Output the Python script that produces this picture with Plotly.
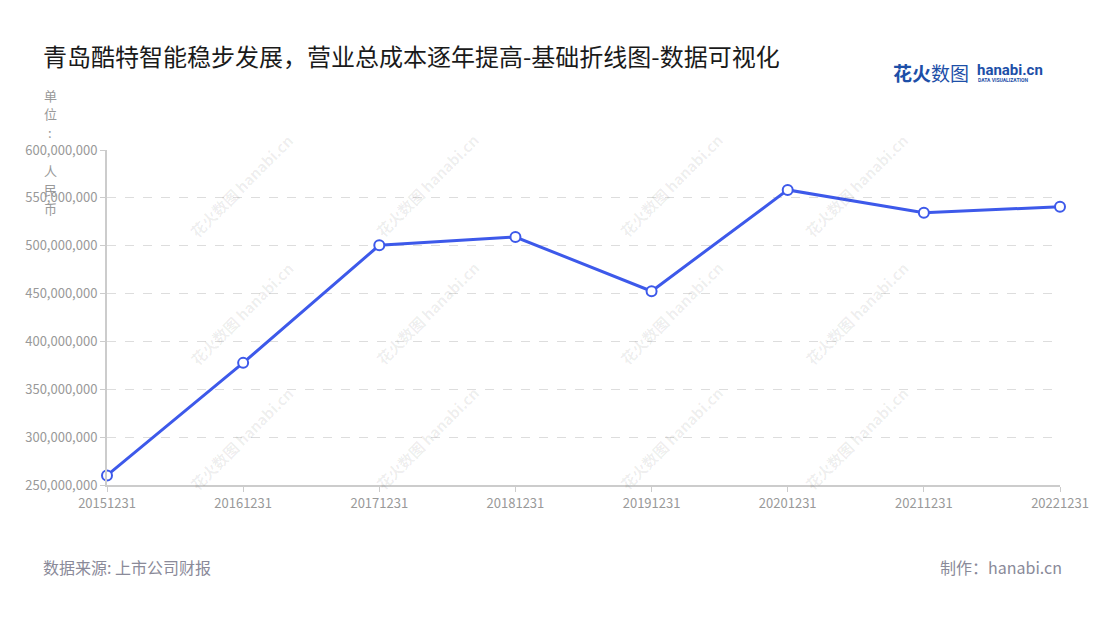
import plotly.graph_objects as go

# ---- data ----
dates = ["20151231", "20161231", "20171231", "20181231",
         "20191231", "20201231", "20211231", "20221231"]
total_cost = [260000000, 377600000, 500500000, 509100000,
              452500000, 558300000, 534400000, 540700000]
y_ticks = [250000000, 300000000, 350000000, 400000000,
           450000000, 500000000, 550000000, 600000000]

title_text = "青岛酷特智能稳步发展，营业总成本逐年提高-基础折线图-数据可视化"
unit_chars = ["单", "位", ":", " ", "人", "民", "币"]
source_text = "数据来源: 上市公司财报"
maker_text = "制作：hanabi.cn"

# page body has an 8px margin; work in screen pixels and shift by it
OFF = 8
W, H = 1100 - OFF, 620 - OFF
PL, PR, PT, PB = 107, 1060, 150, 485   # plot area in screen pixels
L, R, T, B = PL - OFF, W - (PR - OFF), PT - OFF, H - (PB - OFF)
FONT = "Noto Sans CJK SC, Noto Sans, sans-serif"
BLUE = "#3d59ea"

fig = go.Figure()
fig.add_trace(go.Scatter(
    x=dates, y=total_cost, mode="lines+markers",
    line=dict(color=BLUE, width=3),
    marker=dict(size=10, color="white", line=dict(color=BLUE, width=2)),
    hoverinfo="x+y", showlegend=False, cliponaxis=False,
))

def px_x(px):
    return (px - PL) / (PR - PL)

def px_y(py):
    return (PB - py) / (PB - PT)

annotations = []
# watermarks
for cx in [183, 427, 671, 915]:
    for cy in [127, 313, 497]:
        annotations.append(dict(
            x=px_x(cx), y=px_y(cy), xref="paper", yref="paper",
            text="<b>花火数图 hanabi.cn</b>", showarrow=False, textangle=-45,
            font=dict(size=15, color="rgba(0,0,0,0.07)", family=FONT),
        ))

# title
annotations.append(dict(
    x=px_x(42), y=px_y(55), xref="paper", yref="paper", xanchor="left", yanchor="middle",
    text=title_text, showarrow=False, borderpad=0,
    font=dict(size=24, color="#1a1a1a", family=FONT),
))
# unit label, stacked vertically
for i, ch in enumerate(unit_chars):
    annotations.append(dict(
        x=px_x(50), y=px_y(95 + i * 18.9), xref="paper", yref="paper",
        xanchor="center", yanchor="middle", text=ch, showarrow=False,
        font=dict(size=13, color="#999999", family=FONT),
    ))
# footer
annotations.append(dict(
    x=px_x(42), y=px_y(567), xref="paper", yref="paper", xanchor="left", yanchor="middle",
    text=source_text, showarrow=False, borderpad=0,
    font=dict(size=16, color="#8a8a99", family=FONT),
))
annotations.append(dict(
    x=px_x(1063), y=px_y(567), xref="paper", yref="paper", xanchor="right", yanchor="middle",
    text=maker_text, showarrow=False, borderpad=0,
    font=dict(size=16, color="#8a8a99", family=FONT),
))
# logo
annotations.append(dict(
    x=px_x(971), y=px_y(72), xref="paper", yref="paper", xanchor="right", yanchor="middle",
    text="<b>花火</b>数图", showarrow=False, font=dict(size=19, color="#1d4fa8", family=FONT),
))
annotations.append(dict(
    x=px_x(975), y=px_y(70), xref="paper", yref="paper", xanchor="left", yanchor="middle",
    text="<b>hanabi.cn</b>", showarrow=False, font=dict(size=15, color="#1d4fa8", family="Roboto, sans-serif"),
))
annotations.append(dict(
    x=px_x(976), y=px_y(80), xref="paper", yref="paper", xanchor="left", yanchor="middle",
    text="<b>DATA VISUALIZATION</b>", showarrow=False, font=dict(size=5, color="#1d4fa8", family="Roboto, sans-serif"),
))

fig.update_layout(
    width=W, height=H,
    margin=dict(l=L, r=R, t=T, b=B),
    paper_bgcolor="white", plot_bgcolor="white",
    font=dict(family=FONT, color="#999999", size=13),
    annotations=annotations,
    xaxis=dict(
        type="category", range=[0, len(dates) - 1],
        showgrid=False, showline=True, linecolor="#cccccc", linewidth=2,
        ticks="outside", ticklen=5, tickcolor="#cccccc",
        tickfont=dict(size=13, color="#999999"), zeroline=False,
    ),
    yaxis=dict(
        range=[250000000, 600000000], tickvals=y_ticks, tickformat=",d",
        showgrid=True, gridcolor="#dddddd", griddash="dash", gridwidth=1,
        showline=True, linecolor="#cccccc", linewidth=2,
        ticks="outside", ticklen=5, tickcolor="#cccccc",
        tickfont=dict(size=13, color="#999999"), zeroline=False,
    ),
)

fig.write_html("out.html")
